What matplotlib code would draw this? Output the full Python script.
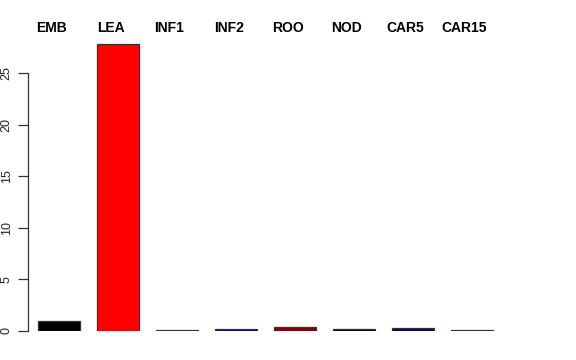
import matplotlib
matplotlib.use("Agg")
import matplotlib.pyplot as plt
from matplotlib.transforms import blended_transform_factory

# tissue groups and their values
tissues = ["EMB", "LEA", "INF1", "INF2", "ROO", "NOD", "CAR5", "CAR15"]
values = [0.95, 27.85, 0.08, 0.2, 0.35, 0.15, 0.32, 0.05]
colors = ["black", "red", "#3a5a3a", "darkblue", "darkred", "black", "#000080", "#555555"]
yticks = [0, 5, 10, 15, 20, 25]

plt.rcParams['font.family'] = ['Liberation Sans', 'DejaVu Sans']

fig = plt.figure(figsize=(5.76, 3.6), dpi=100)
# place axes so that y=0 sits at ~331px and the spine at ~28px
ax = fig.add_axes([28 / 576, 29 / 360, (560 - 28) / 576, 299.3 / 360])

x = list(range(len(tissues)))
width = 0.712
ax.bar(x, values, width=width, color=colors, edgecolor="#333333", linewidth=0.9)

ax.set_xlim(-0.525, 8.49)
ax.set_ylim(0, 29)

for side in ["top", "right", "bottom"]:
    ax.spines[side].set_visible(False)
ax.spines["left"].set_bounds(0, 25)
ax.spines["left"].set_color("#333333")
ax.spines["left"].set_linewidth(0.9)

ax.set_xticks([])
ax.set_yticks(yticks)
ax.set_yticklabels([str(t) for t in yticks], rotation=90, va="center", fontsize=9, color="#222222")
ax.tick_params(axis="y", length=7, width=0.9, color="#333333", pad=4)

# group names along the top, centred a little left of each bar
trans = blended_transform_factory(ax.transData, fig.transFigure)
for xi, name in zip(x, tissues):
    ax.text(xi - 0.127, 1 - 28 / 360, name, transform=trans, ha="center", va="center",
            fontsize=10, fontweight="bold")

fig.savefig("out.png", dpi=100)
